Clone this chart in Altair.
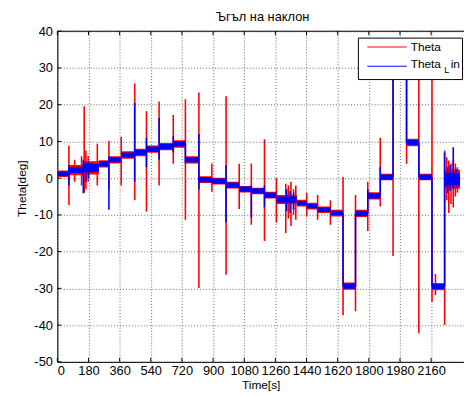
import altair as alt
import pandas as pd

# ---------------- data ----------------
# plateau segments of the signal (time in s, level in deg)
seg_t0 = [0, 67, 150, 240, 298, 369, 447, 515, 588, 670, 740, 818, 893, 975, 1051,
          1121, 1197, 1266, 1384, 1441, 1504, 1578, 1651, 1723, 1794, 1866, 1940,
          2018, 2089, 2165, 2238]
seg_t1 = [67, 150, 240, 298, 369, 447, 515, 588, 670, 740, 818, 893, 975, 1051, 1121,
          1197, 1266, 1384, 1441, 1504, 1578, 1651, 1723, 1794, 1866, 1940, 2018,
          2089, 2165, 2238, 2327]
seg_level = [1.2, 2.2, 2.8, 3.9, 5.0, 6.3, 7.0, 7.9, 8.6, 9.3, 5.0, -0.4, -0.8, -1.9,
             -3.0, -3.5, -4.6, -5.8, -6.8, -7.6, -8.6, -9.5, -29.4, -9.6, -4.8, 0.3,
             32.0, 9.7, 0.3, -29.5, -0.3]
# noise half-widths of each series on each plateau
blue_half = [0.6, 0.8, 1.1, 0.7, 0.7, 0.7, 0.7, 0.7, 0.7, 0.7, 0.7, 0.7, 0.7, 0.7, 0.7,
             0.7, 0.7, 0.8, 0.6, 0.6, 0.6, 0.6, 0.7, 0.7, 0.7, 0.7, 0.7, 0.7, 0.7, 0.7,
             1.6]
red_half = [0.9, 1.4, 1.8, 1.0, 1.0, 1.0, 1.0, 1.0, 1.0, 1.0, 1.0, 0.9, 0.9, 0.9, 0.9,
            0.9, 0.9, 1.2, 0.9, 0.9, 0.9, 0.9, 1.0, 1.0, 1.0, 0.9, 1.0, 1.0, 0.9, 1.0,
            2.6]

# spikes of Theta (red)
red_spk_t = [67, 100, 140, 155, 165, 178, 231, 298, 369, 447, 515, 588, 670, 740, 818,
             893, 975, 1051, 1121, 1197, 1266, 1320, 1335, 1350, 1365, 1378, 1441, 1504,
             1578, 1651, 1723, 1794, 1866, 1940, 2018, 2089, 2165, 2185, 2238, 2250,
             2262, 2275, 2288, 2300, 2312]
red_spk_lo = [-7.3, -1.0, -2.0, -4.0, -3.0, -1.0, -2.0, -3.0, -2.0, -6.0, -9.1, -2.0,
              3.9, -11.3, -29.9, -3.7, -26.3, -8.4, -12.7, -17.1, -12.1, -14.9, -11.0,
              -13.0, -10.0, -11.3, -10.4, -11.3, -12.7, -37.3, -36.2, -14.4, -7.7,
              -21.2, 3.9, -42.2, -33.7, -31.9, -40.0, -6.0, -9.5, -7.0, -8.0, -5.0, -4.0]
red_spk_hi = [8.8, 5.0, 6.0, 19.6, 7.5, 6.0, 9.4, 10.2, 11.3, 25.8, 18.2, 20.9, 17.2,
              21.5, 23.3, 4.0, 22.3, 3.9, 4.0, 10.6, 0.0, -1.5, -2.0, -1.0, -3.0, -2.0,
              -4.0, -4.6, -6.0, 0.3, -4.6, -1.0, 11.0, 36.0, 33.0, 36.0, 36.0, -26.1,
              7.5, 5.7, 4.8, 4.0, 5.0, 4.0, 3.0]

# spikes of Theta_L in (blue)
blue_spk_t = [67, 150, 165, 180, 298, 447, 515, 588, 670, 740, 818, 975, 1121, 1197,
              1325, 1345, 1365, 1651, 1723, 1794, 1866, 1940, 2018, 2089, 2165, 2238,
              2255, 2270, 2288, 2305]
blue_spk_lo = [-2.0, -4.1, -1.0, 0.0, -8.6, -1.0, 3.0, 5.0, 7.0, 4.0, -3.0, -12.0,
               -10.8, -8.0, -9.0, -9.5, -8.5, -29.4, -29.4, -9.6, -4.8, 0.3, 9.7, 0.3,
               -29.5, -29.5, -4.0, -3.5, -3.0, -2.5]
blue_spk_hi = [3.5, 5.0, 4.5, 4.5, 6.0, 20.5, 11.0, 16.4, 11.5, 9.5, 12.0, 3.5, -2.0,
               -2.0, -3.0, -3.5, -4.0, -9.5, -9.6, -3.0, 3.0, 32.0, 32.0, 9.7, 0.3, 7.0,
               3.0, 3.5, 8.4, 2.5]

x_ticks = [0, 180, 360, 540, 720, 900, 1080, 1260, 1440, 1620, 1800, 1980, 2160]
y_ticks = [-50, -40, -30, -20, -10, 0, 10, 20, 30, 40]
title_text = "Ъгъл на наклон"

# ---------------- tables ----------------
seg = pd.DataFrame({"t0": seg_t0, "t1": seg_t1, "lev": seg_level,
                    "bh": blue_half, "rh": red_half})
seg["rlo"] = seg["lev"] - seg["rh"]
seg["rhi"] = seg["lev"] + seg["rh"]
seg["blo"] = seg["lev"] - seg["bh"]
seg["bhi"] = seg["lev"] + seg["bh"]
rspk = pd.DataFrame({"t": red_spk_t, "lo": red_spk_lo, "hi": red_spk_hi})
bspk = pd.DataFrame({"t": blue_spk_t, "lo": blue_spk_lo, "hi": blue_spk_hi})
xt = pd.DataFrame({"t": x_ticks})
yt = pd.DataFrame({"v": y_ticks})

W, H = 412, 335
FONT = "Liberation Sans"
RED = "#ff0000"
BLUE = "#0000ff"

xs = alt.Scale(domain=[0, 2350], nice=False, zero=False)
ys = alt.Scale(domain=[-50, 40], nice=False, zero=False)

x_axis = alt.Axis(values=x_ticks, title="Time[s]", grid=True, ticks=False,
                  labelExpr="'' + datum.value",
                  labelFlush=True, labelPadding=3, labelFontSize=13, labelFont=FONT,
                  labelColor="black", titleFont=FONT, titleFontSize=12,
                  titleFontWeight="normal", titleColor="black", titlePadding=2,
                  gridColor="#666666", gridDash=[1, 2], gridWidth=1,
                  domainColor="black", domainWidth=1)
y_axis = alt.Axis(values=y_ticks, title="Theta[deg]", grid=True, ticks=False,
                  labelExpr="'' + datum.value",
                  labelPadding=5, labelFontSize=13, labelFont=FONT, labelColor="black",
                  titleFont=FONT, titleFontSize=12, titleFontWeight="normal",
                  titleColor="black", titleX=-36, titleY=159, titleBaseline="middle",
                  gridColor="#666666", gridDash=[1, 2], gridWidth=1,
                  domainColor="black", domainWidth=1)


def X(field):
    return alt.X(field, type="quantitative", scale=xs, axis=x_axis)


def Y(field):
    return alt.Y(field, type="quantitative", scale=ys, axis=y_axis)


red_band = alt.Chart(seg).mark_rect(color=RED, clip=True).encode(
    x=X("t0"), x2="t1:Q", y=Y("rlo"), y2="rhi:Q")
red_spikes = alt.Chart(rspk).mark_rule(color=RED, strokeWidth=1.6, clip=True).encode(
    x=X("t"), y=Y("lo"), y2="hi:Q")
blue_band = alt.Chart(seg).mark_rect(color=BLUE, clip=True).encode(
    x=X("t0"), x2="t1:Q", y=Y("blo"), y2="bhi:Q")
blue_spikes = alt.Chart(bspk).mark_rule(color=BLUE, strokeWidth=1.6, clip=True).encode(
    x=X("t"), y=Y("lo"), y2="hi:Q")

# frame: top edge and inward ticks (MATLAB style)
top_edge = alt.Chart(xt.head(1)).mark_rule(color="black", strokeWidth=1).encode(
    x=alt.value(0), x2=alt.value(W), y=alt.value(0))
top_ticks = alt.Chart(xt).mark_rule(color="black", strokeWidth=1).encode(
    x=X("t"), y=alt.value(0), y2=alt.value(4))
bot_ticks = alt.Chart(xt).mark_rule(color="black", strokeWidth=1).encode(
    x=X("t"), y=alt.value(H), y2=alt.value(H - 4))
left_ticks = alt.Chart(yt).mark_rule(color="black", strokeWidth=1).encode(
    y=Y("v"), x=alt.value(0), x2=alt.value(4))

# title (drawn as text so it sits exactly above the plot)
one = pd.DataFrame({"a": [0]})
title = alt.Chart(one).mark_text(text=title_text, fontSize=13, font=FONT,
                                 color="black", align="center",
                                 baseline="middle").encode(
    x=alt.value(W / 2 + 2), y=alt.value(-14))

# legend
leg_box = alt.Chart(one).mark_rect(fill="white", stroke="black", strokeWidth=1).encode(
    x=alt.value(305), x2=alt.value(410.5), y=alt.value(7), y2=alt.value(49))
leg_red = alt.Chart(one).mark_rule(color=RED, strokeWidth=1).encode(
    x=alt.value(314), x2=alt.value(354), y=alt.value(16))
leg_blue = alt.Chart(one).mark_rule(color=BLUE, strokeWidth=1).encode(
    x=alt.value(314), x2=alt.value(354), y=alt.value(35.5))
txt = dict(align="left", baseline="middle", font=FONT, color="black")
leg_t1 = alt.Chart(one).mark_text(text="Theta", fontSize=12, **txt).encode(
    x=alt.value(358), y=alt.value(16.5))
leg_t2 = alt.Chart(one).mark_text(text="Theta", fontSize=12, **txt).encode(
    x=alt.value(358), y=alt.value(33.5))
leg_sub = alt.Chart(one).mark_text(text="L", fontSize=9, **txt).encode(
    x=alt.value(392), y=alt.value(39.5))
leg_in = alt.Chart(one).mark_text(text="in", fontSize=12, **txt).encode(
    x=alt.value(398.5), y=alt.value(33.5))

chart = alt.layer(
    red_band, red_spikes, blue_band, blue_spikes,
    top_edge, top_ticks, bot_ticks, left_ticks, title,
    leg_box, leg_red, leg_blue, leg_t1, leg_t2, leg_sub, leg_in,
).properties(
    width=W, height=H,
    autosize=alt.AutoSizeParams(type="none"),
    padding={"left": 50, "top": 21, "right": 0, "bottom": 27},
).configure_view(stroke=None).configure(background="white")

chart.save("out.html", embed_options={"renderer": "svg", "actions": False})
